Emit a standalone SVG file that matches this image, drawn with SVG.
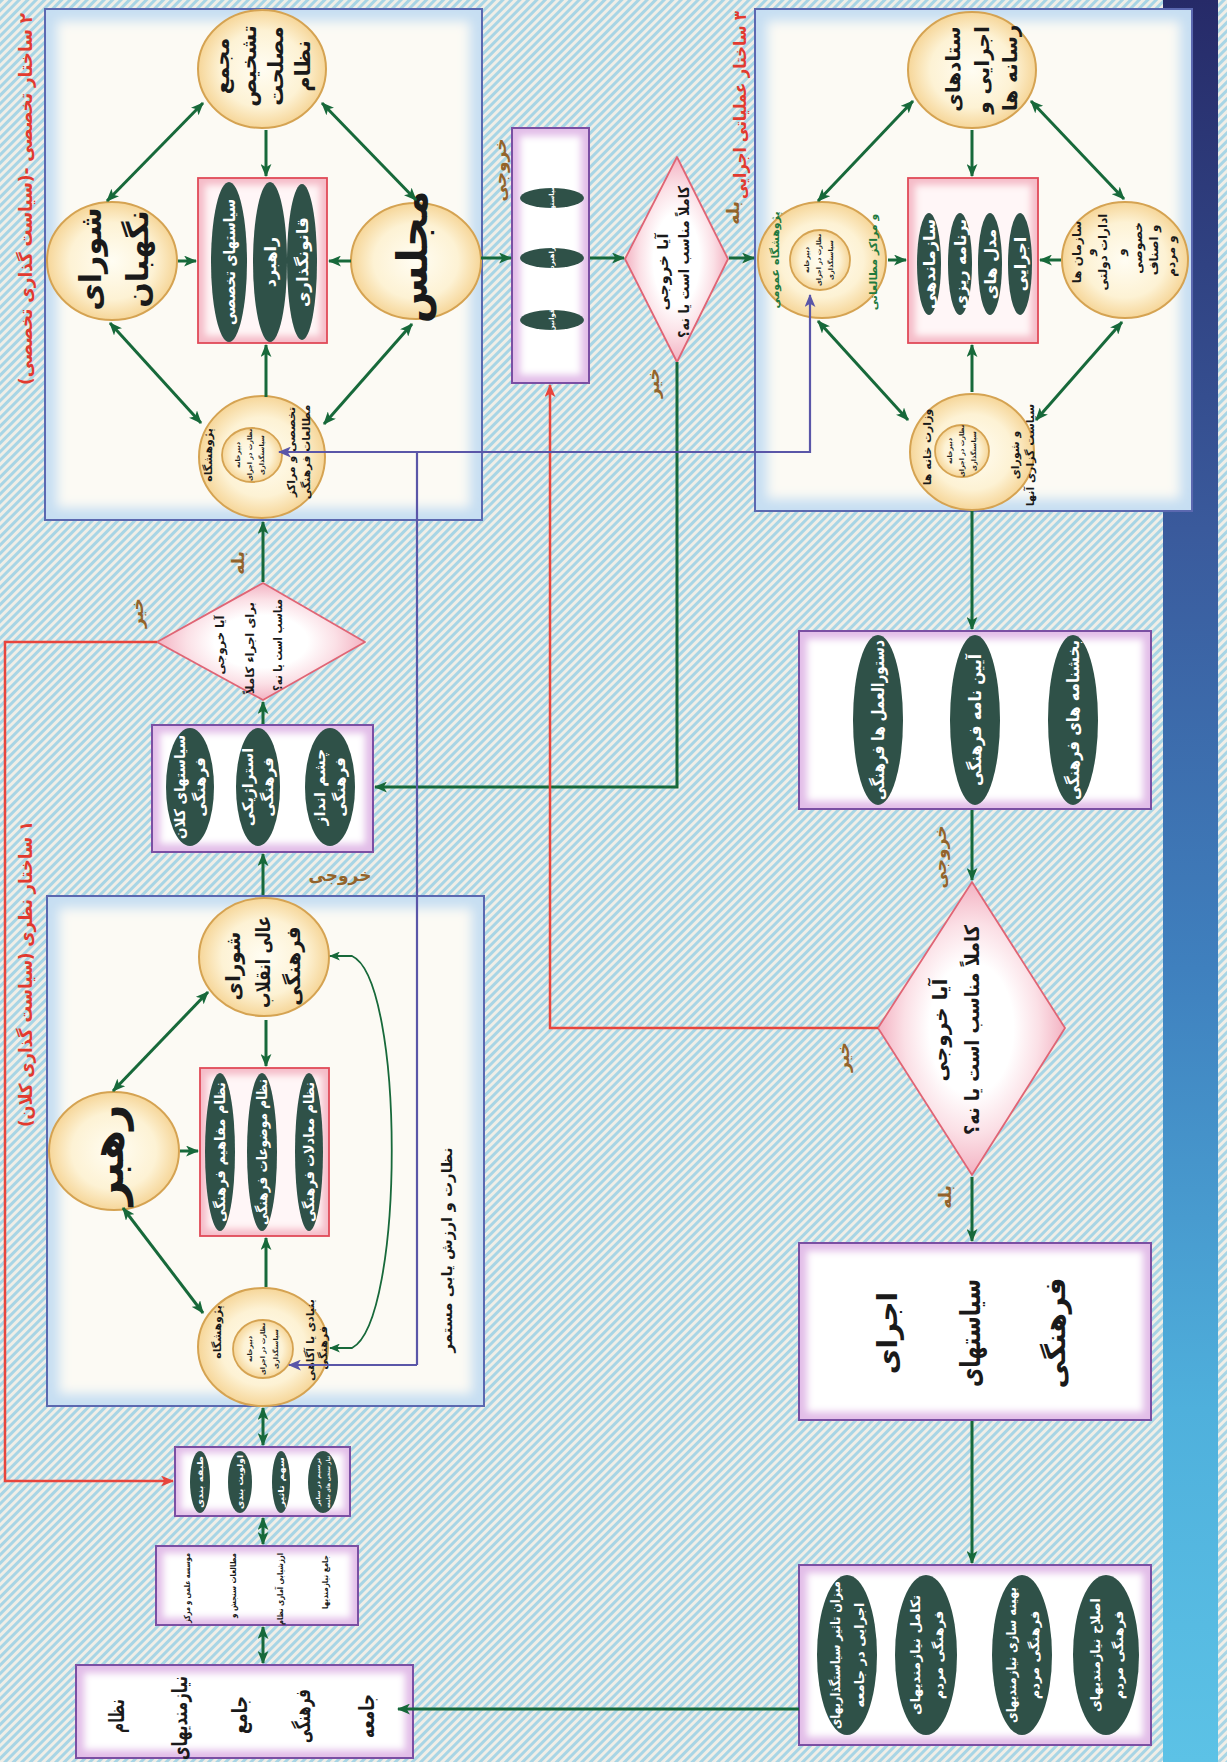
<svg xmlns="http://www.w3.org/2000/svg" width="1227" height="1762" viewBox="0 0 1227 1762">
<defs>
<style>
text{font-family:"DejaVu Sans","Noto Sans",sans-serif;text-anchor:middle;dominant-baseline:central;font-weight:bold;direction:rtl}
.w{fill:#ffffff}
.k{fill:#1a1a1a}
.lab{fill:#94632a}
.ttl{fill:#e23a2f}
.gt{fill:#1f7a3e}
.cir{fill:url(#gCir);stroke:#d5a352;stroke-width:2}
.inn{fill:url(#gCir);stroke:#d5a352;stroke-width:1.8}
.dk{fill:#2f5148}
.bxo{fill:#c6def2}
.bxi{fill:#fcfaf4;filter:url(#bl)}
.bxs{fill:none;stroke:#5b68b0;stroke-width:2}
.pbo{fill:#e2bde8}
.pbi{fill:#ffffff;filter:url(#bl3)}
.pbs{fill:none;stroke:#7b4fa3;stroke-width:2}
.rro{fill:#f5bcc8}
.rri{fill:#fff6f7;filter:url(#bl3)}
.rrs{fill:none;stroke:#e04a58;stroke-width:1.8}
.dia{fill:url(#gDia);stroke:#e06575;stroke-width:1.8;stroke-linejoin:round}
.ga{stroke:#17693a;stroke-width:3;fill:none;marker-end:url(#mg)}
.gd{stroke:#17693a;stroke-width:3;fill:none;marker-start:url(#mg);marker-end:url(#mg)}
.red{stroke:#e8453c;stroke-width:2.5;fill:none;marker-end:url(#mr)}
.blu{stroke:#5a56a8;stroke-width:2.2;fill:none}
.top{text-anchor:start}
</style>
<pattern id="hatch" width="6" height="6" patternUnits="userSpaceOnUse" patternTransform="rotate(45)">
<rect width="6" height="6" fill="#f0eee7"/><rect width="3" height="6" fill="#a8d5e5"/>
</pattern>
<linearGradient id="gStrip" x1="0" y1="0" x2="0" y2="1">
<stop offset="0" stop-color="#262a68"/><stop offset="0.3" stop-color="#3a5a9c"/><stop offset="0.55" stop-color="#3f80be"/><stop offset="0.8" stop-color="#4fb0dc"/><stop offset="1" stop-color="#5cc2e6"/>
</linearGradient>
<radialGradient id="gCir"><stop offset="0" stop-color="#fffdf3"/><stop offset="0.65" stop-color="#fdf2d4"/><stop offset="1" stop-color="#f6d699"/></radialGradient>
<radialGradient id="gDia"><stop offset="0.45" stop-color="#ffffff"/><stop offset="0.72" stop-color="#fbe0e6"/><stop offset="1" stop-color="#f3b2c2"/></radialGradient>
<filter id="bl" x="-10%" y="-10%" width="120%" height="120%"><feGaussianBlur stdDeviation="6"/></filter>
<filter id="bl3" x="-15%" y="-15%" width="130%" height="130%"><feGaussianBlur stdDeviation="3.5"/></filter>
<marker id="mg" viewBox="0 0 12 10" refX="11" refY="5" markerWidth="13" markerHeight="11" markerUnits="userSpaceOnUse" orient="auto-start-reverse"><path d="M0,0 L12,5 L0,10 L3,5 Z" fill="#17693a"/></marker>
<marker id="ms" viewBox="0 0 12 10" refX="11" refY="5" markerWidth="11" markerHeight="9" markerUnits="userSpaceOnUse" orient="auto-start-reverse"><path d="M0,0 L12,5 L0,10 L3,5 Z" fill="#17693a"/></marker>
<marker id="mr" viewBox="0 0 12 10" refX="11" refY="5" markerWidth="13" markerHeight="11" markerUnits="userSpaceOnUse" orient="auto-start-reverse"><path d="M0,0 L12,5 L0,10 L3,5 Z" fill="#e8453c"/></marker>
<marker id="mb" viewBox="0 0 12 10" refX="11" refY="5" markerWidth="13" markerHeight="11" markerUnits="userSpaceOnUse" orient="auto-start-reverse"><path d="M0,0 L12,5 L0,10 L3,5 Z" fill="#5a56a8"/></marker>
</defs>

<rect width="1227" height="1762" fill="url(#hatch)"/>
<rect x="1163" y="0" width="55" height="1762" fill="url(#gStrip)"/>

<!-- container boxes -->
<g id="boxA">
<rect class="bxo" x="45" y="9" width="437" height="511"/>
<rect class="bxi" x="57" y="21" width="413" height="487"/>
<rect class="bxs" x="45" y="9" width="437" height="511"/>
</g>
<g id="boxB">
<rect class="bxo" x="47" y="896" width="437" height="510"/>
<rect class="bxi" x="59" y="908" width="413" height="486"/>
<rect class="bxs" x="47" y="896" width="437" height="510"/>
</g>
<g id="boxC">
<rect class="bxo" x="755" y="9" width="437" height="502"/>
<rect class="bxi" x="767" y="21" width="413" height="478"/>
<rect class="bxs" x="755" y="9" width="437" height="502"/>
</g>

<!-- titles -->
<text class="ttl" font-size="18" textLength="372" lengthAdjust="spacingAndGlyphs" transform="translate(25 199) rotate(-90)">۲ ساختار تخصصی -(سیاست گذاری تخصصی)</text>
<text class="ttl" font-size="18" textLength="306" lengthAdjust="spacingAndGlyphs" transform="translate(25 974) rotate(-90)">۱ ساختار نظری (سیاست گذاری کلان)</text>
<text class="ttl" font-size="17" textLength="188" lengthAdjust="spacingAndGlyphs" transform="translate(740 105) rotate(-90)">۳ ساختار عملیاتی اجرایی</text>

<!-- Box A nodes -->
<g id="majma">
<ellipse class="cir" cx="262" cy="69" rx="64" ry="59"/>
<text class="k" font-size="21" transform="translate(222 66) rotate(-90)">مجمع</text>
<text class="k" font-size="21" transform="translate(249 66) rotate(-90)">تشخیص</text>
<text class="k" font-size="21" transform="translate(276 66) rotate(-90)">مصلحت</text>
<text class="k" font-size="21" transform="translate(303 66) rotate(-90)">نظام</text>
</g>
<g id="negahban">
<ellipse class="cir" cx="112" cy="261" rx="65" ry="59"/>
<text class="k" font-size="30" transform="translate(90 259) rotate(-90)">شورای</text>
<text class="k" font-size="30" transform="translate(137 259) rotate(-90)">نگهبان</text>
</g>
<g id="majles">
<ellipse class="cir" cx="416" cy="261" rx="65" ry="58"/>
<text class="k" font-size="42" transform="translate(412 257) rotate(-90)">مجلس</text>
</g>
<g id="pajoohesh-A">
<ellipse class="cir" cx="262" cy="457" rx="63" ry="61"/>
<ellipse class="inn" cx="252" cy="455" rx="30" ry="27"/>
<text class="k" font-size="11" transform="translate(208 455) rotate(-90)">پژوهشگاه</text>
<text class="k" font-size="6.5" transform="translate(238 455) rotate(-90)">دبیرخانه</text>
<text class="k" font-size="6.5" transform="translate(250 455) rotate(-90)">نظارت در اجرای</text>
<text class="k" font-size="6.5" transform="translate(262 455) rotate(-90)">سیاستگذاری</text>
<text class="k" font-size="11" transform="translate(291 452) rotate(-90)">تخصصی و مراکز</text>
<text class="k" font-size="11" transform="translate(306 452) rotate(-90)">مطالعات فرهنگی</text>
</g>
<g id="policyA">
<rect class="rro" x="198" y="178" width="129" height="165"/>
<rect class="rri" x="205" y="185" width="115" height="151"/>
<rect class="rrs" x="198" y="178" width="129" height="165"/>
<ellipse class="dk" cx="229" cy="262" rx="18" ry="80"/>
<ellipse class="dk" cx="270" cy="262" rx="17" ry="80"/>
<ellipse class="dk" cx="302" cy="262" rx="15" ry="78"/>
<text class="w" font-size="16" textLength="126" lengthAdjust="spacingAndGlyphs" transform="translate(229 262) rotate(-90)">سیاستهای تخصصی</text>
<text class="w" font-size="16" transform="translate(270 262) rotate(-90)">راهبرد</text>
<text class="w" font-size="16" textLength="90" lengthAdjust="spacingAndGlyphs" transform="translate(302 262) rotate(-90)">قانونگذاری</text>
</g>

<!-- middle top -->
<g id="outputA">
<rect class="pbo" x="512" y="128" width="77" height="255"/>
<rect class="pbi" x="520" y="136" width="61" height="239"/>
<rect class="pbs" x="512" y="128" width="77" height="255"/>
<ellipse class="dk" cx="552" cy="198" rx="32" ry="10"/>
<ellipse class="dk" cx="552" cy="258" rx="32" ry="10"/>
<ellipse class="dk" cx="552" cy="320" rx="32" ry="10"/>
<text class="w" font-size="7" transform="translate(552 198) rotate(-90)">سیاستها</text>
<text class="w" font-size="7" transform="translate(552 258) rotate(-90)">راهبرد</text>
<text class="w" font-size="7" transform="translate(552 320) rotate(-90)">قوانین</text>
</g>
<g id="decisionA">
<polygon class="dia" points="625,259 677,157 728,259 677,362"/>
<text class="k" font-size="15" transform="translate(663 272) rotate(-90)">آیا خروجی</text>
<text class="k" font-size="15" textLength="152" lengthAdjust="spacingAndGlyphs" transform="translate(684 262) rotate(-90)">کاملاً مناسب است یا نه؟</text>
</g>

<!-- Box C nodes -->
<g id="setad">
<ellipse class="cir" cx="972" cy="70" rx="64" ry="58"/>
<text class="k" font-size="20" transform="translate(953 69) rotate(-90)">ستادهای</text>
<text class="k" font-size="20" transform="translate(982 70) rotate(-90)">اجرایی و</text>
<text class="k" font-size="20" transform="translate(1010 68) rotate(-90)">رسانه ها</text>
</g>
<g id="pajoohesh-C">
<ellipse class="cir" cx="822" cy="260" rx="64" ry="58"/>
<ellipse class="inn" cx="820" cy="260" rx="30" ry="30"/>
<text class="gt" font-size="11" transform="translate(775 260) rotate(-90)">پژوهشگاه عمومی</text>
<text class="k" font-size="6.5" transform="translate(807 260) rotate(-90)">دبیرخانه</text>
<text class="k" font-size="6.5" transform="translate(819 260) rotate(-90)">نظارت در اجرای</text>
<text class="k" font-size="6.5" transform="translate(831 260) rotate(-90)">سیاستگذاری</text>
<text class="gt" font-size="11" transform="translate(873 262) rotate(-90)">و مراکز مطالعاتی</text>
</g>
<g id="sazman">
<ellipse class="cir" cx="1125" cy="260" rx="63" ry="58"/>
<text class="k" font-size="12" transform="translate(1077 252) rotate(-90)">سازمان ها</text>
<text class="k" font-size="12" transform="translate(1090 252) rotate(-90)">و</text>
<text class="k" font-size="12" transform="translate(1103 252) rotate(-90)">ادارات دولتی</text>
<text class="k" font-size="12" transform="translate(1121 252) rotate(-90)">و</text>
<text class="k" font-size="12" transform="translate(1138 248) rotate(-90)">خصوصی</text>
<text class="k" font-size="12" transform="translate(1154 250) rotate(-90)">و اصناف</text>
<text class="k" font-size="12" transform="translate(1171 256) rotate(-90)">و مردم</text>
</g>
<g id="vezarat">
<ellipse class="cir" cx="972" cy="452" rx="62" ry="58"/>
<ellipse class="inn" cx="962" cy="451" rx="27" ry="26"/>
<text class="k" font-size="11" transform="translate(927 447) rotate(-90)">وزارت خانه ها</text>
<text class="k" font-size="6.5" transform="translate(950 451) rotate(-90)">دبیرخانه</text>
<text class="k" font-size="6.5" transform="translate(962 451) rotate(-90)">نظارت در اجرای</text>
<text class="k" font-size="6.5" transform="translate(974 451) rotate(-90)">سیاستگذاری</text>
<text class="k" font-size="11" transform="translate(1015 455) rotate(-90)">و شورای</text>
<text class="k" font-size="11" transform="translate(1030 455) rotate(-90)">سیاست گزاری آنها</text>
</g>
<g id="policyC">
<rect class="rro" x="908" y="178" width="130" height="165"/>
<rect class="rri" x="915" y="185" width="116" height="151"/>
<rect class="rrs" x="908" y="178" width="130" height="165"/>
<ellipse class="dk" cx="929" cy="264" rx="12" ry="51"/>
<ellipse class="dk" cx="960" cy="264" rx="12" ry="51"/>
<ellipse class="dk" cx="990" cy="264" rx="12" ry="51"/>
<ellipse class="dk" cx="1020" cy="264" rx="12" ry="51"/>
<text class="w" font-size="16" textLength="90" lengthAdjust="spacingAndGlyphs" transform="translate(929 264) rotate(-90)">سازماندهی</text>
<text class="w" font-size="16" textLength="90" lengthAdjust="spacingAndGlyphs" transform="translate(960 264) rotate(-90)">برنامه ریزی</text>
<text class="w" font-size="16" transform="translate(990 264) rotate(-90)">مدل های</text>
<text class="w" font-size="16" transform="translate(1020 264) rotate(-90)">اجرایی</text>
</g>

<!-- right column -->
<g id="outputC">
<rect class="pbo" x="799" y="631" width="352" height="178"/>
<rect class="pbi" x="807" y="639" width="336" height="162"/>
<rect class="pbs" x="799" y="631" width="352" height="178"/>
<ellipse class="dk" cx="878" cy="720" rx="25" ry="85"/>
<ellipse class="dk" cx="975" cy="720" rx="25" ry="85"/>
<ellipse class="dk" cx="1073" cy="720" rx="25" ry="85"/>
<text class="w" font-size="17" textLength="160" lengthAdjust="spacingAndGlyphs" transform="translate(878 720) rotate(-90)">دستورالعمل ها فرهنگی</text>
<text class="w" font-size="17" textLength="132" lengthAdjust="spacingAndGlyphs" transform="translate(975 720) rotate(-90)">آیین نامه فرهنگی</text>
<text class="w" font-size="17" textLength="160" lengthAdjust="spacingAndGlyphs" transform="translate(1073 720) rotate(-90)">بخشنامه های فرهنگی</text>
</g>
<g id="decisionC">
<polygon class="dia" points="972,882 1065,1028 972,1175 878,1028"/>
<text class="k" font-size="20" transform="translate(940 1030) rotate(-90)">آیا خروجی</text>
<text class="k" font-size="20" textLength="210" lengthAdjust="spacingAndGlyphs" transform="translate(972 1030) rotate(-90)">کاملاً مناسب است یا نه؟</text>
</g>
<g id="ejra">
<rect class="pbo" x="799" y="1243" width="352" height="177"/>
<rect class="pbi" x="807" y="1251" width="336" height="161"/>
<rect class="pbs" x="799" y="1243" width="352" height="177"/>
<text class="k" font-size="28" transform="translate(887 1333) rotate(-90)">اجرای</text>
<text class="k" font-size="28" textLength="108" lengthAdjust="spacingAndGlyphs" transform="translate(970 1333) rotate(-90)">سیاستهای</text>
<text class="k" font-size="28" transform="translate(1055 1333) rotate(-90)">فرهنگی</text>
</g>
<g id="natayej">
<rect class="pbo" x="799" y="1565" width="352" height="180"/>
<rect class="pbi" x="807" y="1573" width="336" height="164"/>
<rect class="pbs" x="799" y="1565" width="352" height="180"/>
<ellipse class="dk" cx="847" cy="1655" rx="30" ry="80"/>
<ellipse class="dk" cx="926" cy="1655" rx="31" ry="80"/>
<ellipse class="dk" cx="1022" cy="1655" rx="30" ry="80"/>
<ellipse class="dk" cx="1106" cy="1655" rx="33" ry="80"/>
<text class="w" font-size="13" textLength="148" lengthAdjust="spacingAndGlyphs" transform="translate(835 1655) rotate(-90)">میزان تاثیر سیاستگذاریهای</text>
<text class="w" font-size="13" transform="translate(859 1655) rotate(-90)">اجرایی در جامعه</text>
<text class="w" font-size="13" textLength="120" lengthAdjust="spacingAndGlyphs" transform="translate(915 1655) rotate(-90)">تکامل نیازمندیهای</text>
<text class="w" font-size="13" transform="translate(938 1655) rotate(-90)">فرهنگی مردم</text>
<text class="w" font-size="13" textLength="136" lengthAdjust="spacingAndGlyphs" transform="translate(1011 1655) rotate(-90)">بهینه سازی نیازمندیهای</text>
<text class="w" font-size="13" transform="translate(1034 1655) rotate(-90)">فرهنگی مردم</text>
<text class="w" font-size="13" textLength="114" lengthAdjust="spacingAndGlyphs" transform="translate(1095 1655) rotate(-90)">اصلاح نیازمندیهای</text>
<text class="w" font-size="13" transform="translate(1118 1655) rotate(-90)">فرهنگی مردم</text>
</g>

<!-- left column -->
<g id="decisionB">
<polygon class="dia" points="157,642 263,583 365,642 263,700"/>
<text class="k" font-size="11.5" transform="translate(220 645) rotate(-90)">آیا خروجی</text>
<text class="k" font-size="11.5" textLength="92" lengthAdjust="spacingAndGlyphs" transform="translate(250 648) rotate(-90)">برای اجراء کاملاً</text>
<text class="k" font-size="11.5" textLength="92" lengthAdjust="spacingAndGlyphs" transform="translate(278 645) rotate(-90)">مناسب است یا نه؟</text>
</g>
<g id="outputB">
<rect class="pbo" x="152" y="725" width="221" height="127"/>
<rect class="pbi" x="160" y="733" width="205" height="111"/>
<rect class="pbs" x="152" y="725" width="221" height="127"/>
<ellipse class="dk" cx="190" cy="787" rx="24" ry="59"/>
<ellipse class="dk" cx="258" cy="787" rx="22" ry="59"/>
<ellipse class="dk" cx="330" cy="787" rx="25" ry="59"/>
<text class="w" font-size="15" textLength="104" lengthAdjust="spacingAndGlyphs" transform="translate(180 787) rotate(-90)">سیاستهای کلان</text>
<text class="w" font-size="15" transform="translate(200 787) rotate(-90)">فرهنگی</text>
<text class="w" font-size="15" transform="translate(248 787) rotate(-90)">استراژیکی</text>
<text class="w" font-size="15" transform="translate(268 787) rotate(-90)">فرهنگی</text>
<text class="w" font-size="15" transform="translate(320 787) rotate(-90)">چشم انداز</text>
<text class="w" font-size="15" transform="translate(340 787) rotate(-90)">فرهنگی</text>
</g>

<!-- Box B nodes -->
<g id="shoraAli">
<ellipse class="cir" cx="264" cy="957" rx="65" ry="59"/>
<text class="k" font-size="20" transform="translate(233 966) rotate(-90)">شورای</text>
<text class="k" font-size="20" textLength="92" lengthAdjust="spacingAndGlyphs" transform="translate(263 962) rotate(-90)">عالی انقلاب</text>
<text class="k" font-size="20" transform="translate(293 966) rotate(-90)">فرهنگی</text>
</g>
<g id="rahbar">
<ellipse class="cir" cx="114" cy="1151" rx="65" ry="59"/>
<text class="k" font-size="44" transform="translate(107 1155) rotate(-90)">رهبر</text>
</g>
<g id="pajoohesh-B">
<ellipse class="cir" cx="263" cy="1347" rx="65" ry="59"/>
<ellipse class="inn" cx="263" cy="1349" rx="30" ry="29"/>
<text class="k" font-size="11" transform="translate(217 1332) rotate(-90)">پژوهشگاه</text>
<text class="k" font-size="6.5" transform="translate(250 1349) rotate(-90)">دبیرخانه</text>
<text class="k" font-size="6.5" transform="translate(263 1349) rotate(-90)">نظارت در اجرای</text>
<text class="k" font-size="6.5" transform="translate(276 1349) rotate(-90)">سیاستگذاری</text>
<text class="k" font-size="11" transform="translate(310 1340) rotate(-90)">بنیادی یا آگاهی</text>
<text class="k" font-size="11" transform="translate(323 1348) rotate(-90)">فرهنگی</text>
</g>
<g id="policyB">
<rect class="rro" x="200" y="1068" width="129" height="168"/>
<rect class="rri" x="207" y="1075" width="115" height="154"/>
<rect class="rrs" x="200" y="1068" width="129" height="168"/>
<ellipse class="dk" cx="220" cy="1152" rx="15" ry="79"/>
<ellipse class="dk" cx="262" cy="1152" rx="15" ry="79"/>
<ellipse class="dk" cx="309" cy="1152" rx="14" ry="79"/>
<text class="w" font-size="14" textLength="140" lengthAdjust="spacingAndGlyphs" transform="translate(220 1152) rotate(-90)">نظام مفاهیم فرهنگی</text>
<text class="w" font-size="14" textLength="146" lengthAdjust="spacingAndGlyphs" transform="translate(262 1152) rotate(-90)">نظام موضوعات فرهنگی</text>
<text class="w" font-size="14" textLength="140" lengthAdjust="spacingAndGlyphs" transform="translate(309 1152) rotate(-90)">نظام معادلات فرهنگی</text>
</g>
<text class="k" font-size="15" transform="translate(447 1250) rotate(-90)">نظارت و ارزش یابی مستمر</text>

<!-- bottom left -->
<g id="tabaghe">
<rect class="pbo" x="175" y="1447" width="175" height="69"/>
<rect class="pbi" x="181" y="1453" width="163" height="57"/>
<rect class="pbs" x="175" y="1447" width="175" height="69"/>
<ellipse class="dk" cx="200" cy="1482" rx="10" ry="31"/>
<ellipse class="dk" cx="240" cy="1482" rx="12" ry="31"/>
<ellipse class="dk" cx="281" cy="1482" rx="9" ry="31"/>
<ellipse class="dk" cx="323" cy="1482" rx="15" ry="31"/>
<text class="w" font-size="8" textLength="52" lengthAdjust="spacingAndGlyphs" transform="translate(200 1482) rotate(-90)">طبقه بندی</text>
<text class="w" font-size="8" textLength="54" lengthAdjust="spacingAndGlyphs" transform="translate(240 1482) rotate(-90)">اولویت بندی</text>
<text class="w" font-size="8" textLength="50" lengthAdjust="spacingAndGlyphs" transform="translate(281 1482) rotate(-90)">سهم تاثیر</text>
<text class="w" font-size="5.5" textLength="48" lengthAdjust="spacingAndGlyphs" transform="translate(318 1482) rotate(-90)">ترسیم در سایر</text>
<text class="w" font-size="5.5" textLength="52" lengthAdjust="spacingAndGlyphs" transform="translate(328 1482) rotate(-90)">نیاز سنجی های جامعه</text>
</g>
<g id="moassese">
<rect class="pbo" x="156" y="1546" width="202" height="79"/>
<rect class="pbi" x="163" y="1553" width="188" height="65"/>
<rect class="pbs" x="156" y="1546" width="202" height="79"/>
<text class="k top" font-size="8.5" textLength="70" lengthAdjust="spacingAndGlyphs" transform="translate(187 1553) rotate(-90)">موسسه علمی و مرکز</text>
<text class="k top" font-size="8.5" textLength="65" lengthAdjust="spacingAndGlyphs" transform="translate(233 1553) rotate(-90)">مطالعات سنجش و</text>
<text class="k top" font-size="8.5" textLength="72" lengthAdjust="spacingAndGlyphs" transform="translate(280 1553) rotate(-90)">ارزشیابی آماری نظام</text>
<text class="k top" font-size="8.5" textLength="54" lengthAdjust="spacingAndGlyphs" transform="translate(325 1555) rotate(-90)">جامع نیازمندیها</text>
</g>
<g id="nezam">
<rect class="pbo" x="76" y="1665" width="337" height="93"/>
<rect class="pbi" x="84" y="1673" width="321" height="77"/>
<rect class="pbs" x="76" y="1665" width="337" height="93"/>
<text class="k" font-size="21" textLength="34" lengthAdjust="spacingAndGlyphs" transform="translate(117 1716) rotate(-90)">نظام</text>
<text class="k" font-size="21" textLength="84" lengthAdjust="spacingAndGlyphs" transform="translate(180 1718) rotate(-90)">نیازمندیهای</text>
<text class="k" font-size="21" textLength="38" lengthAdjust="spacingAndGlyphs" transform="translate(240 1715) rotate(-90)">جامع</text>
<text class="k" font-size="21" textLength="54" lengthAdjust="spacingAndGlyphs" transform="translate(303 1716) rotate(-90)">فرهنگی</text>
<text class="k" font-size="21" textLength="44" lengthAdjust="spacingAndGlyphs" transform="translate(367 1716) rotate(-90)">جامعه</text>
</g>

<!-- connectors -->
<g id="connectors">
<line class="ga" x1="266" y1="130" x2="266" y2="176"/>
<line class="ga" x1="266" y1="397" x2="266" y2="345"/>
<line class="ga" x1="178" y1="261" x2="196" y2="261"/>
<line class="ga" x1="351" y1="261" x2="329" y2="261"/>
<line class="gd" x1="107" y1="201" x2="203" y2="103"/>
<line class="gd" x1="322" y1="103" x2="416" y2="200"/>
<line class="gd" x1="110" y1="323" x2="201" y2="423"/>
<line class="gd" x1="412" y1="324" x2="324" y2="424"/>
<line class="ga" x1="481" y1="258" x2="511" y2="258"/>
<line class="ga" x1="590" y1="258" x2="624" y2="258"/>
<line class="ga" x1="729" y1="258" x2="754" y2="258"/>
<line class="ga" x1="972" y1="130" x2="972" y2="176"/>
<line class="ga" x1="972" y1="392" x2="972" y2="345"/>
<line class="ga" x1="888" y1="260" x2="906" y2="260"/>
<line class="ga" x1="1061" y1="260" x2="1040" y2="260"/>
<line class="gd" x1="818" y1="201" x2="913" y2="101"/>
<line class="gd" x1="1031" y1="101" x2="1124" y2="199"/>
<line class="gd" x1="818" y1="321" x2="908" y2="420"/>
<line class="gd" x1="1122" y1="322" x2="1036" y2="420"/>
<line class="ga" x1="972" y1="511" x2="972" y2="629"/>
<line class="ga" x1="972" y1="810" x2="972" y2="880"/>
<line class="ga" x1="972" y1="1177" x2="972" y2="1241"/>
<line class="ga" x1="972" y1="1421" x2="972" y2="1563"/>
<line class="ga" x1="799" y1="1709" x2="398" y2="1709"/>
<path class="ga" d="M677 362 V787 H375"/>
<line class="ga" x1="263" y1="582" x2="263" y2="522"/>
<line class="ga" x1="263" y1="724" x2="263" y2="702"/>
<line class="ga" x1="263" y1="895" x2="263" y2="854"/>
<line class="ga" x1="266" y1="1020" x2="266" y2="1066"/>
<line class="ga" x1="266" y1="1287" x2="266" y2="1238"/>
<line class="ga" x1="180" y1="1151" x2="198" y2="1151"/>
<line class="gd" x1="113" y1="1091" x2="208" y2="992"/>
<line class="gd" x1="123" y1="1208" x2="203" y2="1313"/>
<path d="M330 956 L352 956 C405 980 405 1320 352 1348 L330 1348" fill="none" stroke="#17693a" stroke-width="1.8" marker-start="url(#ms)" marker-end="url(#ms)"/>
<line class="gd" x1="263" y1="1408" x2="263" y2="1445"/>
<line class="gd" x1="263" y1="1518" x2="263" y2="1544"/>
<line class="gd" x1="263" y1="1627" x2="263" y2="1663"/>
<path class="red" d="M157 642 H5 V1481 H173"/>
<path class="red" d="M878 1028 H550 V385"/>
<path class="blu" d="M417 1365 H289" marker-end="url(#mb)"/>
<path class="blu" d="M417 1365 V452 H279" marker-end="url(#mb)"/>
<path class="blu" d="M417 452 H810 V295" marker-end="url(#mb)"/>
</g>

<!-- connector labels -->
<g id="labels">
<text class="lab" font-size="17" transform="translate(500 170) rotate(-90)">خروجی</text>
<text class="lab" font-size="17" transform="translate(733 213) rotate(-90)">بله</text>
<text class="lab" font-size="17" transform="translate(653 383) rotate(-90)">خیر</text>
<text class="lab" font-size="17" transform="translate(238 563) rotate(-90)">بله</text>
<text class="lab" font-size="17" transform="translate(137 613) rotate(-90)">خیر</text>
<text class="lab" font-size="17" transform="translate(340 875)">خروجی</text>
<text class="lab" font-size="17" transform="translate(940 857) rotate(-90)">خروجی</text>
<text class="lab" font-size="17" transform="translate(843 1057) rotate(-90)">خیر</text>
<text class="lab" font-size="17" transform="translate(945 1197) rotate(-90)">بله</text>
</g>
</svg>
